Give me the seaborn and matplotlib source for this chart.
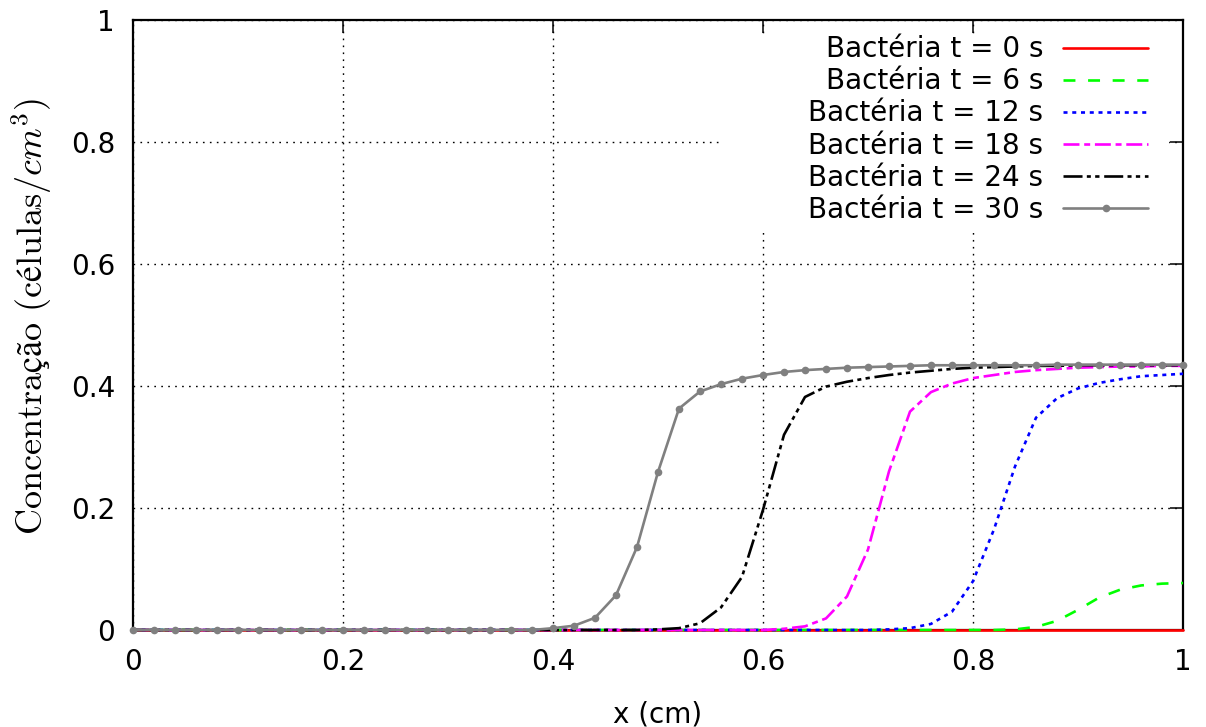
import numpy as np
import pandas as pd
import matplotlib
matplotlib.use("Agg")
import matplotlib.pyplot as plt
from matplotlib.patches import Rectangle
import seaborn as sns

# ---------------- data ----------------
x_cm = np.linspace(0.0, 1.0, 51)

conc_t0 = [0.0] * 51

conc_t6 = [0.0] * 41 + [0.000, 0.001, 0.005, 0.015, 0.033, 0.053, 0.066, 0.073, 0.076, 0.077]

conc_t12 = [0.0] * 35 + [0.000, 0.001, 0.003, 0.010, 0.030, 0.080, 0.165, 0.268,
                         0.348, 0.380, 0.396, 0.405, 0.411, 0.416, 0.418, 0.420]

conc_t18 = [0.0] * 30 + [0.000, 0.002, 0.006, 0.019, 0.055, 0.132, 0.260, 0.358, 0.390,
                         0.404, 0.413, 0.418, 0.423, 0.426, 0.428, 0.430, 0.431,
                         0.432, 0.432, 0.433, 0.433]

conc_t24 = [0.0] * 24 + [0.000, 0.001, 0.003, 0.011, 0.037, 0.087, 0.197, 0.320, 0.382,
                         0.399, 0.407, 0.413, 0.418, 0.422, 0.425, 0.428, 0.430,
                         0.431, 0.432, 0.433, 0.433, 0.434, 0.434, 0.434, 0.434,
                         0.434, 0.434]

conc_t30 = [0.0] * 20 + [0.003, 0.007, 0.020, 0.057, 0.136, 0.259, 0.363, 0.391, 0.403,
                         0.412, 0.418, 0.423, 0.426, 0.428, 0.430, 0.431, 0.432,
                         0.433, 0.434, 0.434, 0.434, 0.434, 0.434, 0.434, 0.435,
                         0.435, 0.435, 0.435, 0.435, 0.435, 0.435]

series_labels = ["Bactéria t = 0 s", "Bactéria t = 6 s", "Bactéria t = 12 s",
                 "Bactéria t = 18 s", "Bactéria t = 24 s", "Bactéria t = 30 s"]

x_ticks = [0.0, 0.2, 0.4, 0.6, 0.8, 1.0]
x_ticklabels = ["0", "0.2", "0.4", "0.6", "0.8", "1"]
y_ticks = [0.0, 0.2, 0.4, 0.6, 0.8, 1.0]
y_ticklabels = ["0", "0.2", "0.4", "0.6", "0.8", "1"]

x_label = "x (cm)"
y_label = r"$\mathrm{Concentração\ (células/}cm^3\mathrm{)}$"

# ---------------- style ----------------
sns.set_theme(style="white")
plt.rcParams["font.family"] = ["DejaVu Sans"]
plt.rcParams["mathtext.fontset"] = "cm"
plt.rcParams["lines.scale_dashes"] = False
plt.rcParams["text.color"] = "black"

colors = ["#ff0000", "#00ff00", "#0000ff", "#ff00ff", "#000000", "#808080"]
styles = ["-",
          (0, (8.6, 9.1)),
          (0, (2.9, 3.4)),
          (0, (11.5, 3.4, 4.3, 3.4)),
          (0, (13.7, 3.1, 2.9, 3.1, 3.1, 3.4)),
          "-"]
markers = [None, None, None, None, None, "o"]

fig = plt.figure(figsize=(12.06, 7.27), dpi=100)
ax = fig.add_axes([133 / 1206, 1 - 630 / 727, 1050 / 1206, 610 / 727])

all_series = [conc_t0, conc_t6, conc_t12, conc_t18, conc_t24, conc_t30]
for vals, lab, c, ls, mk in zip(all_series, series_labels, colors, styles, markers):
    df = pd.DataFrame({"x": x_cm, "y": vals})
    kw = dict(linestyle=ls, linewidth=1.9, zorder=3, clip_on=False)
    if mk:
        kw.update(marker=mk, markersize=5.5, markeredgewidth=0)
    sns.lineplot(data=df, x="x", y="y", color=c, label=lab, ax=ax, **kw)

ax.set_xlim(0, 1)
ax.set_ylim(0, 1)
ax.set_xticks(x_ticks)
ax.set_xticklabels(x_ticklabels)
ax.set_yticks(y_ticks)
ax.set_yticklabels(y_ticklabels)

ax.set_axisbelow(True)
ax.grid(True, color="black", linewidth=1.0, linestyle=(0, (1.2, 3.8)))

# area behind the key is cleared of grid lines
ax.add_patch(Rectangle((0.562, 0.6525), 0.9867 - 0.562, 0.977 - 0.6525,
                       transform=ax.transAxes, facecolor="white",
                       edgecolor="none", zorder=1))

for s in ax.spines.values():
    s.set_visible(True)
    s.set_color("black")
    s.set_linewidth(1.6)
    s.set_zorder(2.5)

ax.tick_params(axis="both", which="major", direction="in", length=9.4, width=1.1,
               color="black", top=True, right=True, labelsize=20, labelcolor="black")
ax.tick_params(axis="x", pad=13)
ax.tick_params(axis="y", pad=13)

ax.set_xlabel(x_label, fontsize=20, color="black")
ax.set_ylabel(y_label, fontsize=26, color="black")
ax.xaxis.set_label_coords(0.5, -0.115)
ax.yaxis.set_label_coords(-0.075, 0.514)

leg = ax.legend(loc="upper right", bbox_to_anchor=((1148 - 133) / 1050, 0.9747),
                markerfirst=False, frameon=False, fontsize=20, handlelength=3.06,
                handletextpad=0.72, labelspacing=0.145, borderpad=0, borderaxespad=0,
                labelcolor="black")
leg.set_zorder(4)

fig.savefig("out.png", dpi=100)
